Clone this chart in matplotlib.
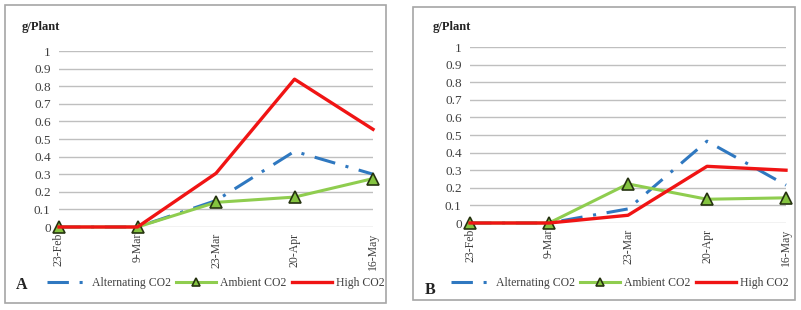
import matplotlib
matplotlib.use("Agg")
import matplotlib.pyplot as plt
from matplotlib.patches import Rectangle

dates = ["23-Feb", "9-Mar", "23-Mar", "20-Apr", "16-May"]
yticks = [0, 0.1, 0.2, 0.3, 0.4, 0.5, 0.6, 0.7, 0.8, 0.9, 1]
ytick_labels = ["0", "0.1", "0.2", "0.3", "0.4", "0.5", "0.6", "0.7", "0.8", "0.9", "1"]

a_alternating = [0, 0, 0.15, 0.43, 0.30]
a_ambient = [0, 0, 0.14, 0.17, 0.275]
a_high = [0, 0, 0.305, 0.84, 0.555]

b_alternating = [0, 0, 0.08, 0.465, 0.215]
b_ambient = [0, 0, 0.222, 0.135, 0.143]
b_high = [0, 0, 0.044, 0.322, 0.30]

W, H = 801, 310
fig = plt.figure(figsize=(W / 100, H / 100), dpi=100)
serif = ["Liberation Serif", "DejaVu Serif"]
plt.rcParams["font.family"] = serif

def fx(px):
    return px / W

def fy(py):
    return 1 - py / H

# panel borders
for (x0, y0, x1, y1) in [(5, 5, 386, 303), (413, 7, 795, 300)]:
    fig.patches.append(Rectangle((fx(x0), fy(y1)), fx(x1 - x0), (y1 - y0) / H,
                                 transform=fig.transFigure, fill=False,
                                 edgecolor="#a6a6a6", lw=1.2))

panels = [
    dict(alt=a_alternating, amb=a_ambient, high=a_high, left=59, right=373, y0=227, y1=51,
         letter="A", letter_xy=(16, 285), ylab_xy=(41, 27), leg_center=(216, 283)),
    dict(alt=b_alternating, amb=b_ambient, high=b_high, left=470, right=786, y0=223, y1=47,
         letter="B", letter_xy=(425, 290), ylab_xy=(452, 27), leg_center=(620, 283)),
]

blue = "#2f78c0"
green = "#8fcd4f"
red = "#f01414"

for p in panels:
    ax = fig.add_axes([fx(p["left"]), fy(p["y0"]), fx(p["right"] - p["left"]), (p["y0"] - p["y1"]) / H])
    x = list(range(len(dates)))
    ax.plot(x, p["alt"], color=blue, lw=2.2, dashes=[7, 3.5, 1, 3.5], label="Alternating CO2",
            clip_on=False, zorder=3)
    ax.plot(x, p["amb"], color=green, lw=2.2, marker="^", markersize=9,
            markerfacecolor="#84c440", markeredgecolor="#263310", markeredgewidth=1.2,
            label="Ambient CO2", clip_on=False, zorder=4)
    ax.plot(x, p["high"], color=red, lw=2.4, label="High CO2", clip_on=False, zorder=5)
    ax.set_xlim(0, len(dates) - 1)
    ax.set_ylim(0, 1)
    ax.set_yticks(yticks)
    ax.set_yticklabels(ytick_labels, fontsize=9.5, color="#404040")
    ax.set_xticks(x)
    ax.set_xticklabels(dates, rotation=90, fontsize=8.5, color="#404040", va="top")
    ax.tick_params(length=0, pad=6)
    ax.tick_params(axis="x", pad=4)
    for s in ax.spines.values():
        s.set_visible(False)
    ax.grid(axis="y", color="#bfbfbf", lw=1)
    ax.set_axisbelow(True)
    fig.text(fx(p["ylab_xy"][0]), fy(p["ylab_xy"][1]), "g/Plant", fontsize=9, fontweight="bold",
             ha="center", va="center", color="#222222")
    fig.text(fx(p["letter_xy"][0]), fy(p["letter_xy"][1]), p["letter"], fontsize=11.5,
             fontweight="bold", ha="left", va="center", color="#222222")
    leg = ax.legend(loc="center", bbox_to_anchor=(fx(p["leg_center"][0]), fy(p["leg_center"][1])),
                    bbox_transform=fig.transFigure, ncol=3, frameon=False, fontsize=8.5,
                    handlelength=3.4, columnspacing=0.4, handletextpad=0.4, markerscale=0.6)
    for t in leg.get_texts():
        t.set_color("#404040")

fig.savefig("out.png", dpi=100)
